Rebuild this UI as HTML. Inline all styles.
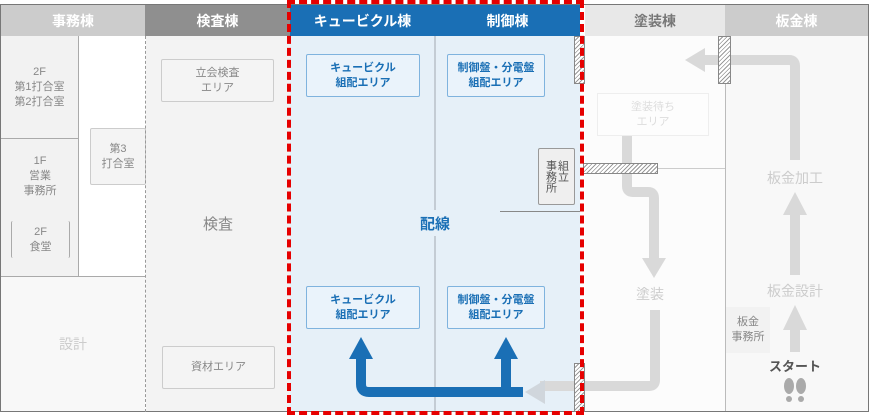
<!DOCTYPE html>
<html><head><meta charset="utf-8"><style>
body{margin:0;width:870px;height:416px;overflow:hidden;background:#fff;font-family:"Liberation Sans","Noto Sans CJK JP",sans-serif;}
.a{position:absolute;box-sizing:border-box;}
.c{display:flex;align-items:center;justify-content:center;text-align:center;}
.hd{font-size:14px;font-weight:bold;color:#fff;}
.rb{border:1px solid #ccc;border-radius:2px;background:#f4f4f4;color:#888;font-size:11px;line-height:15px;}
.bb{border:1px solid #7fb3de;border-radius:2px;background:#eaf3fb;color:#1a6fb5;font-size:11px;font-weight:bold;line-height:15px;}
.hatch{background:repeating-linear-gradient(135deg,#fff 0 2px,#999 2px 3px);border:1px solid #888;}
</style></head><body>
<div class="a" style="left:0;top:4px;width:869px;height:408px;border:1px solid #777;"></div>
<!-- headers -->
<div class="a c hd" style="left:1px;top:5px;width:144px;height:31px;background:#cccccc;">事務棟</div>
<div class="a c hd" style="left:145px;top:5px;width:145px;height:31px;background:#8f8f8f;">検査棟</div>
<div class="a c hd" style="left:290px;top:5px;width:145px;height:31px;background:#1a6fb5;">キュービクル棟</div>
<div class="a c hd" style="left:435px;top:5px;width:145px;height:31px;background:#1a6fb5;">制御棟</div>
<div class="a c hd" style="left:585px;top:5px;width:140px;height:31px;background:#e8e8e8;color:#777;">塗装棟</div>
<div class="a c hd" style="left:725px;top:5px;width:143px;height:31px;background:#cccccc;">板金棟</div>
<!-- office -->
<div class="a c" style="left:1px;top:36px;width:78px;height:103px;background:#f2f2f2;border-right:1px solid #aaa;border-bottom:1px solid #aaa;color:#888;font-size:11px;line-height:15px;">2F<br>第1打合室<br>第2打合室</div>
<div class="a" style="left:1px;top:139px;width:78px;height:137px;background:#f2f2f2;border-right:1px solid #aaa;"></div>
<div class="a c" style="left:1px;top:152px;width:78px;height:48px;color:#888;font-size:11px;line-height:15px;">1F<br>営業<br>事務所</div>
<div class="a c" style="left:11px;top:221px;width:59px;height:37px;border:1px solid #aaa;border-top:none;border-bottom:none;border-radius:2px;color:#888;font-size:11px;line-height:15px;">2F<br>食堂</div>
<div class="a c rb" style="left:90px;top:128px;width:56px;height:57px;">第3<br>打合室</div>
<div class="a c" style="left:1px;top:276px;width:144px;height:135px;background:#f8f8f8;border-top:1px solid #aaa;color:#ccc;font-size:14px;">設計</div>
<div class="a" style="left:145px;top:36px;width:0;height:376px;border-left:1px dashed #999;"></div>
<!-- inspection -->
<div class="a" style="left:146px;top:36px;width:144px;height:375px;background:#f3f3f3;"></div>
<div class="a c rb" style="left:161px;top:59px;width:113px;height:43px;">立会検査<br>エリア</div>
<div class="a c" style="left:146px;top:208px;width:144px;height:30px;color:#888;font-size:15px;">検査</div>
<div class="a c rb" style="left:162px;top:346px;width:113px;height:43px;">資材エリア</div>
<!-- blue -->
<div class="a" style="left:290px;top:36px;width:290px;height:375px;background:#e6f0f8;"></div>
<div class="a" style="left:434px;top:36px;width:2px;height:375px;background:#c4ccd4;"></div>
<div class="a c bb" style="left:306px;top:54px;width:114px;height:43px;">キュービクル<br>組配エリア</div>
<div class="a c bb" style="left:447px;top:54px;width:98px;height:43px;">制御盤・分電盤<br>組配エリア</div>
<div class="a c bb" style="left:306px;top:286px;width:114px;height:43px;">キュービクル<br>組配エリア</div>
<div class="a c bb" style="left:447px;top:286px;width:98px;height:43px;">制御盤・分電盤<br>組配エリア</div>
<div class="a c" style="left:410px;top:210px;width:50px;height:26px;background:#e6f0f8;color:#1a6fb5;font-size:15px;font-weight:bold;">配線</div>
<div class="a" style="left:500px;top:211px;width:80px;height:1px;background:#888;"></div>
<div class="a" style="left:538px;top:148px;width:37px;height:57px;border:1px solid #999;border-radius:2px;background:#efefef;color:#555;font-size:11px;line-height:12px;writing-mode:vertical-rl;display:flex;align-items:center;justify-content:center;">組立<br>事務所</div>
<!-- paint/panel bodies -->
<div class="a" style="left:585px;top:36px;width:140px;height:375px;background:#fcfcfc;"></div>
<div class="a" style="left:725px;top:36px;width:143px;height:375px;background:#f8f8f8;border-left:1px solid #bbb;"></div>
<div class="a" style="left:658px;top:168px;width:67px;height:1px;background:#ccc;"></div>
<div class="a c" style="left:597px;top:93px;width:112px;height:43px;border:1px solid #eee;background:#fdfdfd;color:#ddd;font-size:11px;line-height:15px;">塗装待ち<br>エリア</div>
<div class="a c" style="left:620px;top:282px;width:60px;height:24px;color:#ccc;font-size:14px;">塗装</div>
<div class="a c" style="left:755px;top:166px;width:80px;height:24px;color:#ccc;font-size:14px;">板金加工</div>
<div class="a c" style="left:755px;top:279px;width:80px;height:24px;color:#ccc;font-size:14px;">板金設計</div>
<div class="a c" style="left:726px;top:307px;width:44px;height:46px;background:#f2f2f2;color:#888;font-size:11px;line-height:15px;">板金<br>事務所</div>
<div class="a c" style="left:765px;top:355px;width:60px;height:20px;color:#555;font-size:13px;font-weight:bold;">スタート</div>
<svg class="a" style="left:0;top:0" width="870" height="416">
<g fill="none" stroke="#d9d9d9" stroke-width="10" stroke-linejoin="round">
<path d="M795 160 V66 Q795 60 789 60 H700"/>
<path d="M627 136 V186 Q627 192 633 192 H648 Q654 192 654 198 V262"/>
<path d="M655 310 V380 Q655 386 649 386 H540"/>
<path d="M795 352 V330"/><path d="M795 275 V215"/>
</g>
<g fill="#d9d9d9">
<polygon points="685,60 705,48 705,72"/>
<polygon points="654,278 642,258 666,258"/>
<polygon points="525,392 545,380 545,404" fill="#d0d6dc"/>
<polygon points="795,305 783,330 807,330"/>
<polygon points="795,192 783,215 807,215"/>
</g>
<g fill="none" stroke="#1a6fb5" stroke-width="10" stroke-linejoin="round">
<path d="M523 392 H369 Q361 392 361 384 V355"/>
<path d="M506 392 V355"/>
</g>
<g fill="#1a6fb5">
<polygon points="361,337 349,359 373,359"/>
<polygon points="506,337 494,359 518,359"/>
</g>
<g fill="#aaa"><ellipse cx="789" cy="386" rx="5" ry="8"/><ellipse cx="801" cy="386" rx="5" ry="8"/><circle cx="789" cy="399" r="3"/><circle cx="801" cy="399" r="3"/></g>
</svg>
<div class="a hatch" style="left:574px;top:36px;width:11px;height:48px;"></div>
<div class="a hatch" style="left:574px;top:363px;width:11px;height:49px;"></div>
<div class="a hatch" style="left:583px;top:163px;width:75px;height:11px;"></div>
<div class="a hatch" style="left:718px;top:36px;width:13px;height:48px;"></div>
<div class="a" style="left:287px;top:0;width:297px;height:415px;border:4px dashed #e60000;"></div>
</body></html>
